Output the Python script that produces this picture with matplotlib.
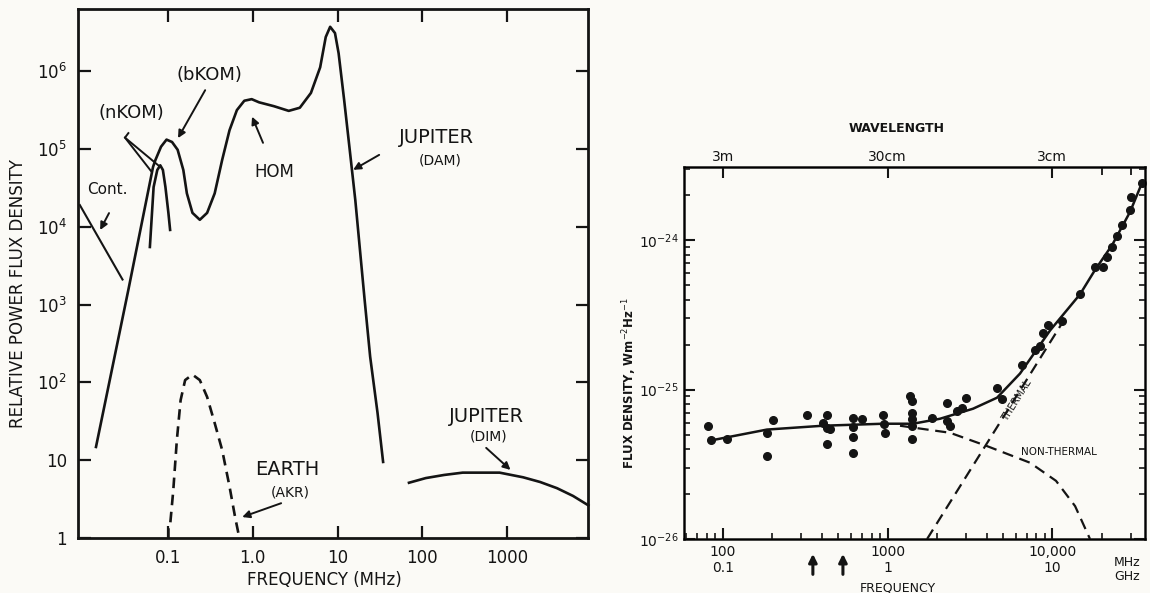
import matplotlib
matplotlib.use('Agg')
import matplotlib.pyplot as plt
from matplotlib.ticker import FixedLocator, NullLocator, NullFormatter, LogLocator
import matplotlib.transforms as mtransforms

# ---------------- Left panel data (frequency MHz, relative power) ----------------
jup_freq = [0.0141, 0.034, 0.0665, 0.0710, 0.0826, 0.0959, 0.1114, 0.1297, 0.1514, 0.1667,
            0.194, 0.237, 0.289, 0.355, 0.435, 0.531, 0.649, 0.794, 0.970, 1.186, 1.774,
            2.655, 3.589, 4.853, 6.237, 7.261, 8.185, 9.333, 10.30, 11.97, 13.93, 16.22,
            20.89, 24.27, 29.65, 34.51]
jup_power = [14.8, 1550, 5.89e4, 7.24e4, 1.07e5, 1.32e5, 1.23e5, 9.77e4, 5.37e4, 2.69e4,
             1.51e4, 1.23e4, 1.51e4, 2.69e4, 7.24e4, 1.74e5, 3.16e5, 4.17e5, 4.37e5, 3.98e5,
             3.55e5, 3.09e5, 3.39e5, 5.25e5, 1.12e6, 2.75e6, 3.72e6, 3.09e6, 1.70e6, 4.27e5,
             9.77e4, 2.19e4, 1148, 214, 40.7, 9.5]

nkom_freq = [0.0610, 0.0675, 0.0746, 0.0809, 0.0869, 0.0931, 0.1009, 0.1057]
nkom_power = [5500, 3.24e4, 5.37e4, 6.17e4, 5.37e4, 3.24e4, 1.51e4, 9120]

cont_freq = [0.0091, 0.029]
cont_power = [1.9e4, 2100]

akr_freq = [0.101, 0.101, 0.105, 0.115, 0.127, 0.1406, 0.159, 0.194, 0.237, 0.289,
            0.355, 0.435, 0.531, 0.618, 0.682]
akr_power = [1.0, 1.35, 1.35, 4.0, 18.2, 59, 107, 126, 107, 65, 30, 13.5, 4.6, 1.86, 1.1]

dim_freq = [69.7, 110, 181, 300, 495, 818, 1549, 2455, 3890, 6026, 9120]
dim_power = [5.13, 5.89, 6.46, 6.92, 6.92, 6.92, 6.03, 5.25, 4.37, 3.47, 2.63]

left_xticks = [0.1, 1, 10, 100, 1000]
left_xticklabels = ['0.1', '1.0', '10', '100', '1000']
left_yticks = [1, 10, 1e2, 1e3, 1e4, 1e5, 1e6]
left_yticklabels = ['1', '10', r'$10^2$', r'$10^3$', r'$10^4$', r'$10^5$', r'$10^6$']

# ---------------- Right panel data (frequency MHz, flux density W m^-2 Hz^-1) ----------------
obs_freq = [81, 84.6, 106, 185, 201, 185, 324, 429, 405, 429, 447, 429, 617, 700, 617, 617,
            617, 940, 953, 966, 1371, 1409, 1409, 1409, 1409, 1409, 1866, 2301, 2301, 2399,
            2645, 2837, 2999, 4632, 4966, 6573, 7888, 8453, 8818, 9457, 11500, 14800, 18200,
            20400, 21600, 23200, 24800, 26600, 29800, 30200, 35200]
obs_flux = [5.73e-26, 4.61e-26, 4.69e-26, 5.14e-26, 6.29e-26, 3.60e-26, 6.79e-26, 6.79e-26,
            6.01e-26, 5.56e-26, 5.47e-26, 4.34e-26, 6.49e-26, 6.38e-26, 5.65e-26, 4.84e-26,
            3.78e-26, 6.79e-26, 5.91e-26, 5.14e-26, 9.12e-26, 8.43e-26, 7.01e-26, 6.38e-26,
            5.73e-26, 4.69e-26, 6.49e-26, 8.18e-26, 6.19e-26, 5.73e-26, 7.23e-26, 7.57e-26,
            8.83e-26, 1.03e-25, 8.71e-26, 1.45e-25, 1.83e-25, 1.97e-25, 2.38e-25, 2.69e-25,
            2.90e-25, 4.35e-25, 6.59e-25, 6.59e-25, 7.69e-25, 8.97e-25, 1.06e-24, 1.26e-24,
            1.59e-24, 1.94e-24, 2.42e-24]

total_freq = [83, 185, 405, 940, 1429, 2084, 3311, 4632, 6383, 9727, 14800, 18200, 23200,
              29800, 35200]
total_flux = [4.55e-26, 5.40e-26, 5.73e-26, 5.91e-26, 5.91e-26, 6.38e-26, 7.45e-26, 8.83e-26,
              1.28e-25, 2.49e-25, 4.35e-25, 6.3e-25, 9.3e-25, 1.55e-24, 2.42e-24]

nonthermal_freq = [1191, 2399, 3972, 7345, 10570, 13800, 17000]
nonthermal_flux = [5.73e-26, 5.14e-26, 4.21e-26, 3.24e-26, 2.45e-26, 1.66e-26, 1.0e-26]

thermal_freq = [1740, 12000]
thermal_flux = [1.0e-26, 3.0e-25]

right_xticks = [100, 1000, 10000]
right_xticklabels = ['100\n0.1', '1000\n1', '10,000\n10']
wavelength_ticks = [100, 1000, 10000]
wavelength_labels = ['3m', '30cm', '3cm']
wavelength_minor = [20000, 30000]
right_yticks = [1e-26, 1e-25, 1e-24]
right_yticklabels = [r'$10^{-26}$', r'$10^{-25}$', r'$10^{-24}$']
marker_freqs = [352, 536]

# ---------------- Figure ----------------
plt.rcParams['font.family'] = ['DejaVu Sans']
ink = '#141414'
paper = '#fbfaf6'
W, H = 1150, 593
fig = plt.figure(figsize=(W / 100, H / 100), dpi=100, facecolor=paper)

def frect(l, t, r, b):
    return [l / W, 1 - b / H, (r - l) / W, (b - t) / H]

# ---- Left panel ----
ax1 = fig.add_axes(frect(78, 9, 588, 538))
ax1.set_facecolor(paper)
ax1.set_xscale('log')
ax1.set_yscale('log')
ax1.set_xlim(0.00865, 9040)
ax1.set_ylim(1, 6.3e6)
lw = 1.9
ax1.plot(jup_freq, jup_power, color=ink, lw=lw)
ax1.plot(nkom_freq, nkom_power, color=ink, lw=lw)
ax1.plot(cont_freq, cont_power, color=ink, lw=1.5)
ax1.plot(akr_freq, akr_power, color=ink, lw=lw, ls=(0, (4, 2.5)))
ax1.plot(dim_freq, dim_power, color=ink, lw=lw, clip_on=False)

ax1.xaxis.set_major_locator(FixedLocator(left_xticks))
ax1.set_xticklabels(left_xticklabels)
ax1.yaxis.set_major_locator(FixedLocator(left_yticks))
ax1.set_yticklabels(left_yticklabels)
ax1.xaxis.set_minor_locator(NullLocator())
ax1.yaxis.set_minor_locator(NullLocator())
ax1.tick_params(which='major', direction='in', length=9, width=1.6, color=ink,
                top=True, right=True, labelsize=12, labelcolor=ink, pad=8)
for s in ax1.spines.values():
    s.set_linewidth(2.0)
    s.set_color(ink)

tk = dict(color=ink, ha='center', va='center')
ax1.text(0.0366, 2.9e5, '(nKOM)', fontsize=13, **tk)
ax1.text(0.305, 8.9e5, '(bKOM)', fontsize=13, **tk)
ax1.text(1.78, 5.0e4, 'HOM', fontsize=12, **tk)
ax1.text(146, 1.42e5, 'JUPITER', fontsize=14, **tk)
ax1.text(162, 7.2e4, '(DAM)', fontsize=10, **tk)
ax1.text(0.019, 3.0e4, 'Cont.', fontsize=11, **tk)
ax1.text(2.54, 7.5, 'EARTH', fontsize=14, **tk)
ax1.text(2.75, 3.9, '(AKR)', fontsize=10, **tk)
ax1.text(568, 36, 'JUPITER', fontsize=14, **tk)
ax1.text(600, 20, '(DIM)', fontsize=10, **tk)

arw = dict(arrowstyle='-|>', color=ink, lw=1.4, mutation_scale=11, shrinkA=0, shrinkB=0)
ax1.annotate('', xy=(0.131, 1.38e5), xytext=(0.274, 5.7e5), arrowprops=arw)
ax1.annotate('', xy=(0.98, 2.6e5), xytext=(1.32, 1.2e5), arrowprops=arw)
ax1.annotate('', xy=(15.3, 5.4e4), xytext=(31, 8.4e4), arrowprops=arw)
ax1.annotate('', xy=(0.75, 1.86), xytext=(2.16, 2.8), arrowprops=arw)
ax1.annotate('', xy=(1100, 7.5), xytext=(568, 14.4), arrowprops=arw)
ax1.annotate('', xy=(0.0158, 9.1e3), xytext=(0.0201, 1.5e4), arrowprops=arw)
# nKOM leader lines (V shape from label to the two spikes)
ax1.plot([0.034, 0.031, 0.063], [1.6e5, 1.4e5, 5.2e4], color=ink, lw=1.4)
ax1.plot([0.031, 0.079], [1.4e5, 6.0e4], color=ink, lw=1.4)

fig.text(18 / W, 1 - 294 / H, 'RELATIVE POWER FLUX DENSITY', rotation=90,
         ha='center', va='center', fontsize=12, color=ink)
fig.text(324 / W, 1 - 580 / H, 'FREQUENCY (MHz)', ha='center', va='center',
         fontsize=12, color=ink)

# ---- Right panel ----
ax2 = fig.add_axes(frect(684, 167, 1145, 539))
ax2.set_facecolor(paper)
ax2.set_xscale('log')
ax2.set_yscale('log')
ax2.set_xlim(58, 36700)
ax2.set_ylim(1e-26, 3.09e-24)
ax2.plot(obs_freq, obs_flux, 'o', color=ink, ms=5.5, mec=ink, clip_on=False)
ax2.plot(total_freq, total_flux, color=ink, lw=1.8)
ax2.plot(nonthermal_freq, nonthermal_flux, color=ink, lw=1.6, ls=(0, (5, 3)))
ax2.plot(thermal_freq, thermal_flux, color=ink, lw=1.6, ls=(0, (5, 3)))

ax2.xaxis.set_major_locator(FixedLocator(right_xticks))
ax2.set_xticklabels(right_xticklabels)
ax2.xaxis.set_minor_locator(LogLocator(base=10, subs=range(2, 10)))
ax2.xaxis.set_minor_formatter(NullFormatter())
ax2.yaxis.set_major_locator(FixedLocator(right_yticks))
ax2.set_yticklabels(right_yticklabels)
ax2.yaxis.set_minor_locator(LogLocator(base=10, subs=range(2, 10)))
ax2.yaxis.set_minor_formatter(NullFormatter())
ax2.tick_params(which='major', direction='in', length=8, width=1.5, color=ink,
                right=True, labelsize=10, labelcolor=ink, pad=4)
ax2.tick_params(which='minor', direction='in', length=4, width=1.2, color=ink, right=True)
for s in ax2.spines.values():
    s.set_linewidth(1.8)
    s.set_color(ink)

axt = ax2.twiny()
axt.set_xscale('log')
axt.set_xlim(ax2.get_xlim())
axt.xaxis.set_major_locator(FixedLocator(wavelength_ticks))
axt.set_xticklabels(wavelength_labels)
axt.xaxis.set_minor_locator(FixedLocator(wavelength_minor))
axt.xaxis.set_minor_formatter(NullFormatter())
axt.tick_params(which='major', direction='in', length=8, width=1.5, color=ink,
                labelsize=10, labelcolor=ink, pad=2)
axt.tick_params(which='minor', direction='in', length=6, width=1.3, color=ink)

ax2.text(6120, 8.5e-26, 'THERMAL', rotation=58, fontsize=7, color=ink,
         ha='center', va='center')
ax2.text(11000, 3.8e-26, 'NON-THERMAL', fontsize=7.5, color=ink,
         ha='center', va='center')

trans = mtransforms.blended_transform_factory(ax2.transData, ax2.transAxes)
ax2.text(28600, -0.045, 'MHz\nGHz', transform=trans, ha='center', va='top',
         fontsize=9, color=ink, linespacing=1.1)
for f in marker_freqs:
    ax2.annotate('', xy=(f, -0.04), xytext=(f, -0.095), xycoords=trans, textcoords=trans,
                 arrowprops=dict(arrowstyle='-|>', color=ink, lw=2.2, mutation_scale=12,
                                 shrinkA=0, shrinkB=0))

fig.text(897 / W, 1 - 128 / H, 'WAVELENGTH', ha='center', va='center',
         fontsize=9, color=ink, fontweight='bold')
fig.text(898 / W, 1 - 588 / H, 'FREQUENCY', ha='center', va='center',
         fontsize=9, color=ink)
fig.text(630 / W, 1 - 383 / H, r'FLUX DENSITY, Wm$^{-2}$Hz$^{-1}$', rotation=90,
         ha='center', va='center', fontsize=8.5, color=ink, fontweight='bold')

fig.savefig('out.png', dpi=100, facecolor=paper)
